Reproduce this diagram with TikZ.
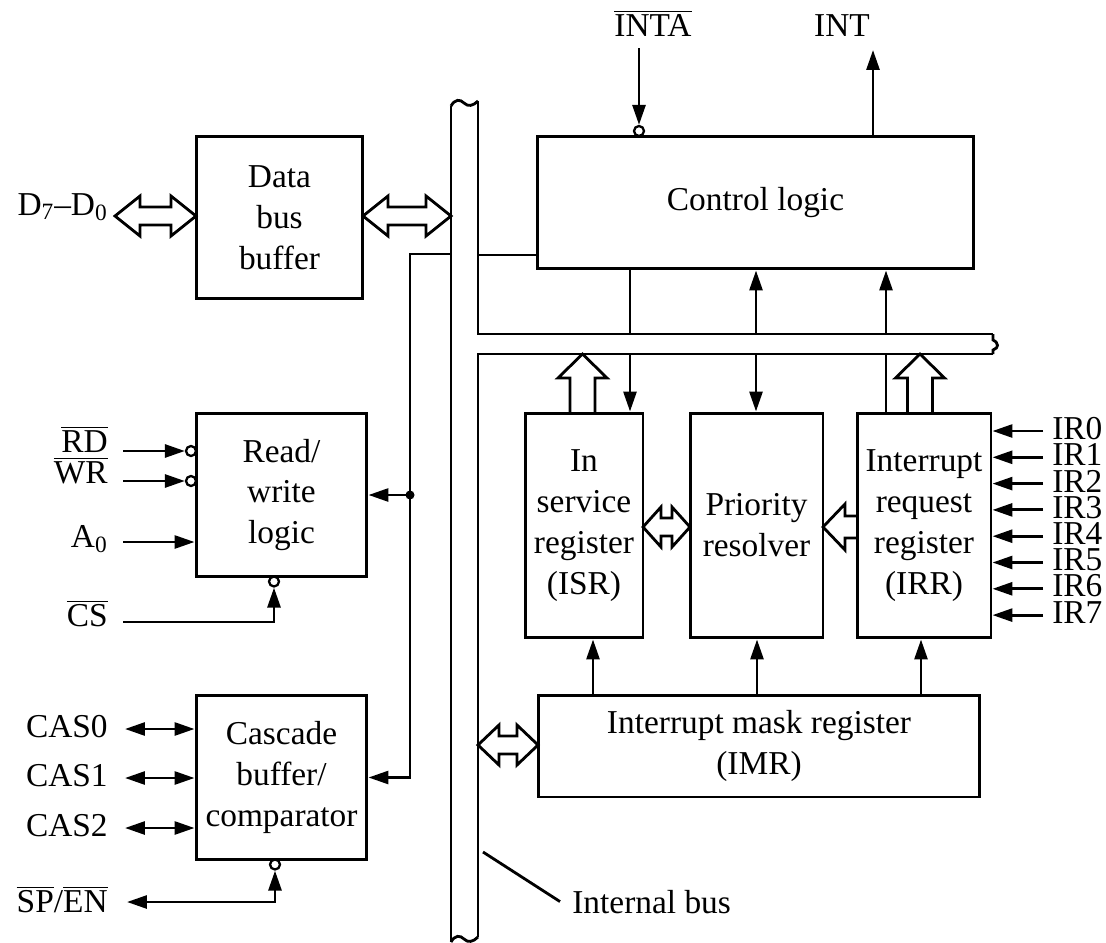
\documentclass[tikz,border=0pt]{standalone}
\usepackage{fontspec}
\setmainfont{Liberation Serif}
\usetikzlibrary{arrows.meta}

% hollow bus arrows, in the picture's pixel units
\newcommand{\fatboth}[4]{% left x, right x, y, head length
  \draw[hollow] (#1,#3) -- (#1+#4,#3-20) -- (#1+#4,#3-9) -- (#2-#4,#3-9)
    -- (#2-#4,#3-20) -- (#2,#3) -- (#2-#4,#3+20) -- (#2-#4,#3+9)
    -- (#1+#4,#3+9) -- (#1+#4,#3+20) -- cycle;}
\newcommand{\fatleft}[3]{% tip x, tail x, y
  \draw[hollow] (#2,#3-11) -- (#1+22,#3-11) -- (#1+22,#3-23) -- (#1,#3)
    -- (#1+22,#3+23) -- (#1+22,#3+11) -- (#2,#3+11);}
\newcommand{\fatup}[3]{% x, tip y, tail y
  \draw[hollow] (#1-12.5,#3) -- (#1-12.5,#2+24) -- (#1-24.5,#2+24) -- (#1,#2)
    -- (#1+24.5,#2+24) -- (#1+12.5,#2+24) -- (#1+12.5,#3);}

\begin{document}
\begin{tikzpicture}[x=0.02cm,y=-0.02cm,font=\fontsize{19}{23.3}\selectfont,
  blk/.style={draw,line width=1.7pt,inner sep=0pt,align=center},
  bub/.style={circle,draw,fill=white,line width=1.3pt,inner sep=0pt,minimum size=0.2cm},
  dot/.style={circle,fill,inner sep=0pt,minimum size=0.18cm},
  lbl/.style={inner sep=0pt},
  wire/.style={line width=1.6pt},
  sig/.style={wire,-{Triangle[length=4mm,width=2.6mm]}},
  bisig/.style={wire,{Triangle[length=4mm,width=2.6mm]}-{Triangle[length=4mm,width=2.6mm]}},
  hollow/.style={line width=1.6pt,line join=miter}]
\useasboundingbox (0,0) rectangle (1106,943);

% internal bus
\draw[wire] (451,106) -- (451,942);
\draw[wire] (478,101) -- (478,334) -- (993,334);
\draw[wire] (993,354) -- (478,354) -- (478,937);
\draw[wire] (451,106) .. controls (455,99) and (460,99) .. (464,103) .. controls (468,107) and (473,106) .. (478,101);
\draw[wire] (451,942) .. controls (455,935) and (460,935) .. (464,939) .. controls (468,943) and (473,942) .. (478,937);
\draw[wire] (993,334) -- (993,340) .. controls (999,343) and (999,348) .. (993,350) -- (993,354);

% blocks
\node[blk,minimum width=3.34cm,minimum height=3.26cm] (dbb) at (279.5,217.5) {Data\\bus\\buffer};
\node[blk,minimum width=3.42cm,minimum height=3.28cm] (rw) at (281.5,495) {Read/\\write\\logic};
\node[blk,minimum width=3.42cm,minimum height=3.3cm] (cas) at (281.5,777.5) {Cascade\\buffer/\\comparator};
\node[blk,minimum width=8.74cm,minimum height=2.66cm] (ctrl) at (755.5,202.5) {Control logic};
\node[blk,minimum width=2.36cm,minimum height=4.5cm] (isr) at (584,525.5) {In\\service\\register\\(ISR)};
\node[blk,minimum width=2.66cm,minimum height=4.5cm] (pr) at (756.5,525.5) {Priority\\resolver};
\node[blk,minimum width=2.68cm,minimum height=4.5cm] (irr) at (924,525.5) {Interrupt\\request\\register\\(IRR)};
\node[blk,minimum width=8.84cm,minimum height=2.04cm] (imr) at (759,746) {Interrupt mask register\\(IMR)};

% control logic pins
\node[lbl,anchor=base] (lInta) at (653,36) {$\overline{\mbox{INTA}}$};
\node[lbl,anchor=base] (lInt) at (842,36) {INT};
\node[bub] (bInta) at (639,131) {};
\coordinate (inInta) at (639,48);
\coordinate (outInt) at (873,50);
\draw[sig] (inInta) -- (bInta);
\draw[sig] (ctrl.north -| outInt) -- (outInt);

% data bus buffer
\node[lbl,anchor=base east] (lData) at (108,215) {D\textsubscript{7}–D\textsubscript{0}};
\fatboth{115}{196}{216}{25}
\fatboth{363}{451}{216}{25}

% read/write logic
\node[lbl,anchor=base east] (lRD) at (108,452) {$\overline{\mbox{RD}}$};
\node[lbl,anchor=base east] (lWR) at (108,483) {$\overline{\mbox{WR}}$};
\node[lbl,anchor=base east] (lA0) at (108,547) {A\textsubscript{0}};
\node[lbl,anchor=base east] (lCS) at (108,626) {$\overline{\mbox{CS}}$};
\node[bub] (bRD) at (191,451) {};
\node[bub] (bWR) at (191,481) {};
\node[bub] (bCS) at (274,581.5) {};
\coordinate (inRD) at (123,451);
\coordinate (inWR) at (123,481);
\coordinate (inA0) at (123,542);
\coordinate (inCS) at (123,622);
\draw[sig] (inRD) -- (bRD);
\draw[sig] (inWR) -- (bWR);
\draw[sig] (inA0) -- (inA0 -| rw.west);
\draw[sig] (inCS) -| (bCS);

% control line under the bus
\coordinate (busR) at (478,255);
\coordinate (busL) at (451,254);
\coordinate (tap) at (410,254);
\draw[wire] (busR) -- (busR -| ctrl.west);
\draw[sig] (busL) -- (tap) |- (cas.east);
\node[dot] (jRW) at (tap |- rw.east) {};
\draw[sig] (jRW.center) -- (rw.east);

% cascade buffer/comparator
\foreach \n/\y in {0/729,1/778,2/828}{
  \coordinate (cas\n) at (125,\y);
  \draw[bisig] (cas\n) -- (cas\n -| cas.west);
  \node[lbl,anchor=base east] (lCas\n) at (108,\y+8) {CAS\n};
}
\node[bub] (bSP) at (275,864.5) {};
\coordinate (outSP) at (127,902);
\draw[bisig] (outSP) -| (bSP);
\node[lbl,anchor=base east] (lSP) at (108,912) {$\overline{\mbox{SP}}$/$\overline{\mbox{EN}}$};

% taps between control logic and the bus
\coordinate (t1) at (630,344);
\coordinate (t2) at (756,344);
\coordinate (t3) at (886,344);
\coordinate (hbT) at (0,334);
\coordinate (hbB) at (0,354);
\draw[wire] (ctrl.south -| t1) -- (t1 |- hbT);
\draw[sig] (t1 |- hbB) -- (isr.north -| t1);
\draw[sig] (t2 |- hbT) -- (ctrl.south -| t2);
\draw[sig] (t2 |- hbB) -- (pr.north -| t2);
\draw[sig] (t3 |- hbT) -- (ctrl.south -| t3);
\draw[wire] (irr.north -| t3) -- (t3 |- hbB);

% wide data paths
\fatup{582.5}{354}{413}
\fatup{920}{354}{413}
\fatboth{643}{690}{527}{18}
\fatleft{823}{857}{527}
\fatboth{478}{538}{745}{21}

% mask register outputs
\foreach \b/\x in {isr/593,pr/757,irr/921}{
  \coordinate (m\b) at (\x,0);
  \draw[sig] (imr.north -| m\b) -- (\b.south -| m\b);
}

% interrupt request inputs
\foreach \i in {0,...,7}{
  \coordinate (ir\i) at (1043,431+26.3*\i);
  \draw[sig] (ir\i) -- (ir\i -| irr.east);
}
\node[lbl,anchor=base west,align=left,font=\fontsize{19}{14.9}\selectfont] (lIR) at (1052,623)
  {IR0\\IR1\\IR2\\IR3\\IR4\\IR5\\IR6\\IR7};

% bus label
\node[lbl,anchor=base west] (lBus) at (572,913) {Internal bus};
\coordinate (busPt) at (483,852);
\draw[wire] (busPt) -- ([xshift=-0.24cm]lBus.west);
\end{tikzpicture}
\end{document}
